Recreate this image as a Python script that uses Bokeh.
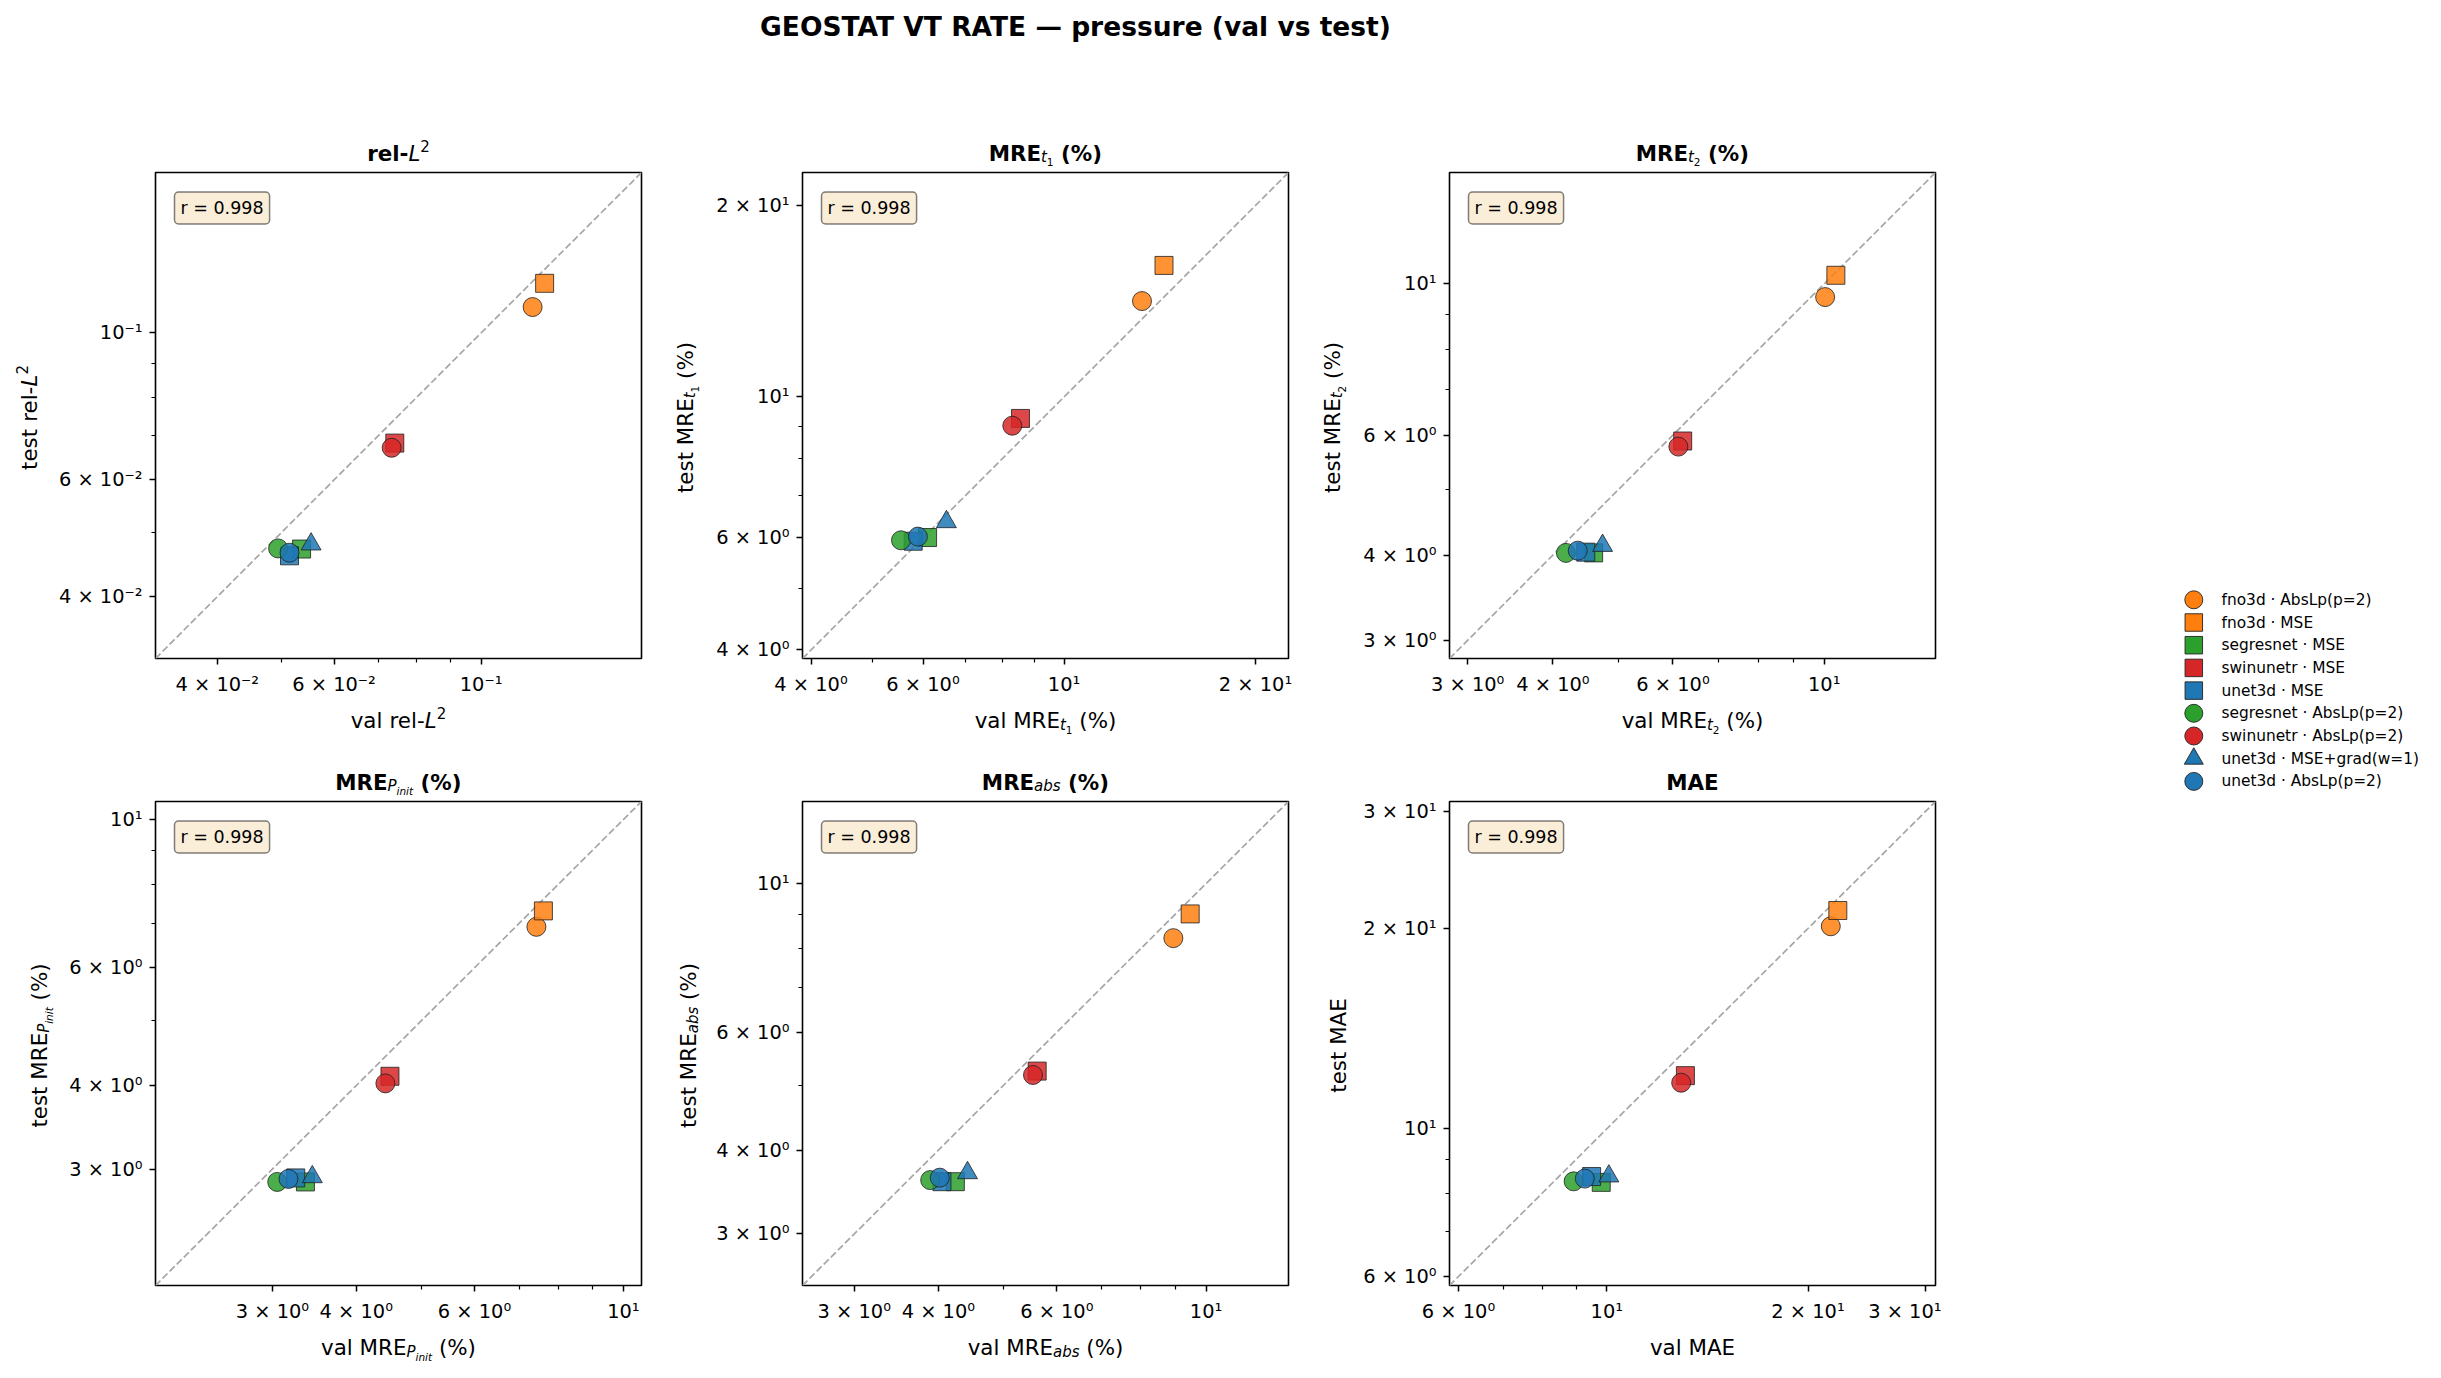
import math
from bokeh.plotting import figure
from bokeh.models import Range1d, FixedTicker, Label, ColumnDataSource
from bokeh.layouts import column, row
from bokeh.embed import file_html
from bokeh.resources import INLINE
from bokeh.core.properties import value

FONT = "DejaVu Sans"

# ---------------- data ----------------
suptitle = "GEOSTAT VT RATE — pressure (val vs test)"

models = ["fno3d · AbsLp(p=2)", "fno3d · MSE", "segresnet · MSE", "swinunetr · MSE",
          "unet3d · MSE", "segresnet · AbsLp(p=2)", "swinunetr · AbsLp(p=2)",
          "unet3d · MSE+grad(w=1)", "unet3d · AbsLp(p=2)"]
colors = ["#ff7f0e", "#ff7f0e", "#2ca02c", "#d62728", "#1f77b4",
          "#2ca02c", "#d62728", "#1f77b4", "#1f77b4"]
markers = ["circle", "square", "square", "square", "square",
           "circle", "circle", "triangle", "circle"]

rel_l2_val = [0.1196, 0.1247, 0.0536, 0.0741, 0.0514, 0.0494, 0.0733, 0.0554, 0.0514]
rel_l2_test = [0.1094, 0.1188, 0.0472, 0.0682, 0.0461, 0.0473, 0.0671, 0.0480, 0.0466]
mre_t1_val = [13.26, 14.36, 6.10, 8.54, 5.79, 5.54, 8.29, 6.53, 5.89]
mre_t1_test = [14.15, 16.10, 6.01, 9.25, 5.93, 5.95, 9.01, 6.36, 6.03]
mre_t2_val = [10.03, 10.40, 4.59, 6.20, 4.47, 4.18, 6.11, 4.73, 4.35]
mre_t2_test = [9.56, 10.29, 4.03, 5.88, 4.04, 4.03, 5.77, 4.13, 4.06]
mre_pinit_val = [7.42, 7.60, 3.36, 4.49, 3.25, 3.05, 4.42, 3.44, 3.17]
mre_pinit_test = [6.91, 7.30, 2.87, 4.13, 2.91, 2.87, 4.03, 2.92, 2.90]
mre_abs_val = [8.94, 9.47, 4.24, 5.61, 4.05, 3.89, 5.53, 4.42, 4.02]
mre_abs_test = [8.29, 9.01, 3.59, 5.25, 3.59, 3.61, 5.18, 3.70, 3.64]
mae_val = [21.63, 22.16, 9.81, 13.11, 9.49, 8.92, 12.92, 10.07, 9.27]
mae_test = [20.15, 21.28, 8.31, 12.02, 8.48, 8.34, 11.73, 8.49, 8.42]

r_values = ["0.998", "0.998", "0.998", "0.998", "0.998", "0.998"]

rel_l2_ticks = [0.04, 0.06, 0.1]
mre_t1_ticks = [4, 6, 10, 20]
mre_t2_ticks = [3, 4, 6, 10]
mre_pinit_ticks = [3, 4, 6, 10]
mre_abs_ticks = [3, 4, 6, 10]
mae_ticks = [6, 10, 20, 30]

panel_names = [
    [("rel-", "main"), ("L", "it"), ("2", "sup")],
    [("MRE", "main"), ("t", "subit"), ("1", "subsub"), (" (%)", "main")],
    [("MRE", "main"), ("t", "subit"), ("2", "subsub"), (" (%)", "main")],
    [("MRE", "main"), ("P", "subit"), ("init", "subsubit"), (" (%)", "main")],
    [("MRE", "main"), ("abs", "subit"), (" (%)", "main")],
    [("MAE", "main")],
]

panels = [
    (rel_l2_val, rel_l2_test, rel_l2_ticks),
    (mre_t1_val, mre_t1_test, mre_t1_ticks),
    (mre_t2_val, mre_t2_test, mre_t2_ticks),
    (mre_pinit_val, mre_pinit_test, mre_pinit_ticks),
    (mre_abs_val, mre_abs_test, mre_abs_ticks),
    (mae_val, mae_test, mae_ticks),
]

# ---------------- helpers ----------------
WR = {" ": 651, "(": 799, ")": 799, "%": 1946, "-": 739, ".": 651, "=": 1716, "×": 1716,
      "A": 1401, "E": 1294, "L": 1141, "M": 1767, "P": 1235, "R": 1423,
      "a": 1255, "b": 1300, "e": 1260, "i": 569, "l": 569, "n": 1298, "r": 842,
      "s": 1067, "t": 803, "v": 1212}
for d in "0123456789":
    WR[d] = 1303
WB = {" ": 713, "(": 934, ")": 934, "%": 2052, "-": 852, "A": 1589, "E": 1399, "L": 1306,
      "M": 1995, "P": 1499, "R": 1577, "a": 1382, "b": 1466, "e": 1389, "i": 702,
      "l": 702, "n": 1458, "r": 1010, "s": 1214, "t": 979, "v": 1331}
for d in "0123456789":
    WB[d] = 1425

KIND = {"main": (1.0, 0.0, False), "it": (1.0, 0.0, True), "sup": (0.7, 0.42, False),
        "subit": (0.7, -0.12, True), "subsub": (0.49, -0.30, False),
        "subsubit": (0.49, -0.30, True)}
BASE_CORR = 0.28   # baseline correction (em) for the renderer's alphabetic placement


def tw(s, size, bold):
    tbl = WB if bold else WR
    return sum(tbl.get(c, 1250) for c in s) * size / 2048.0


def strip(w, h):
    f = figure(frame_width=w, frame_height=h, x_range=Range1d(0, w), y_range=Range1d(0, h),
               toolbar_location=None, output_backend="svg", min_border=0,
               min_border_left=0, min_border_right=0, min_border_top=0, min_border_bottom=0,
               x_axis_location=None, y_axis_location=None, title=None)
    f.outline_line_color = None
    f.grid.visible = False
    f.background_fill_color = "white"
    f.border_fill_color = "white"
    return f


def rich(f, segs, size, bold_main, x, y, rotate=False):
    pieces = []
    for text, kind in segs:
        sc, dy, it = KIND[kind]
        b = bold_main and kind == "main"
        fs = size * sc
        pieces.append((text, fs, dy * size + BASE_CORR * fs, b, it, tw(text, fs, b)))
    total = sum(pc[5] for pc in pieces)
    pos = -total / 2.0
    d = dict(x=[], y=[], text=[], size=[], style=[])
    for text, fs, dy, b, it, w in pieces:
        lead = len(text) - len(text.lstrip(" "))
        shift = tw(" " * lead, fs, b)
        t = text.strip(" ")
        mid = pos + shift + tw(t, fs, b) / 2.0
        style = ("bold " if b else "") + ("italic" if it else "")
        style = style.strip() or "normal"
        if rotate:
            d["x"].append(x - dy)
            d["y"].append(y + mid)
        else:
            d["x"].append(x + mid)
            d["y"].append(y + dy)
        d["text"].append(t)
        d["size"].append(f"{fs:.1f}px")
        d["style"].append(style)
        pos += w
    f.text("x", "y", text="text", source=ColumnDataSource(d), text_font=value(FONT),
           text_font_size="size", text_font_style="style", text_color="black",
           text_align="center", text_baseline="alphabetic",
           angle=(math.pi / 2 if rotate else 0))


SUP = str.maketrans("-0123456789", "⁻⁰¹²³⁴⁵⁶⁷⁸⁹")


def tick_text(v):
    e = math.floor(math.log10(v) + 1e-9)
    m = round(v / 10 ** e)
    s = "10" + str(e).translate(SUP)
    return s if m == 1 else f"{m} × {s}"


def minor_ticks(lo, hi, majors):
    out = []
    for e in range(math.floor(math.log10(lo)) - 1, math.ceil(math.log10(hi)) + 1):
        for m in range(1, 10):
            v = m * 10.0 ** e
            if lo <= v <= hi and not any(abs(v - t) < 1e-6 * t for t in majors):
                out.append(v)
    return out


CELL_W = 647
FRAME_W = 486
PANEL_RIGHT = 6
FRAME_LEFT_IN_CELL = 155
panel_lefts = [102, 92, 92, 92, 92, 92]
PANEL_TOP = 2
PANEL_BOTTOM = 42
XLAB_H = 47
ylab_off = [120, 110.6, 110.6, 110, 107.6, 105.4]
frame_hs = [486, 486, 486, 484, 484, 484]
title_hs = [70, 70, 70, 52, 52, 52]
SIZES = {"circle": 19, "square": 18, "triangle": 20}

cells = []
for i, (val, test, ticks) in enumerate(panels):
    lo = 0.7 * min(val + test)
    hi = 1.4 * max(val + test)
    fh = frame_hs[i]
    pl = panel_lefts[i]
    ylab_w = FRAME_LEFT_IN_CELL - pl
    p = figure(x_axis_type="log", y_axis_type="log",
               x_range=Range1d(lo, hi), y_range=Range1d(lo, hi),
               frame_width=FRAME_W, frame_height=fh,
               min_border_left=pl, min_border_right=PANEL_RIGHT,
               min_border_top=PANEL_TOP, min_border_bottom=PANEL_BOTTOM,
               toolbar_location=None, output_backend="svg", title=None)
    p.grid.visible = False
    p.outline_line_color = "black"
    p.outline_line_width = 1.6
    p.background_fill_color = "white"
    p.border_fill_color = "white"
    for ax in (p.xaxis[0], p.yaxis[0]):
        ax.ticker = FixedTicker(ticks=ticks, minor_ticks=minor_ticks(lo, hi, ticks))
        ax.major_label_overrides = {t: tick_text(t) for t in ticks}
        ax.axis_line_color = None
        ax.major_tick_in = 0
        ax.major_tick_out = 6
        ax.minor_tick_in = 0
        ax.minor_tick_out = 4
        ax.major_tick_line_color = "black"
        ax.minor_tick_line_color = "black"
        ax.major_tick_line_width = 1.5
        ax.minor_tick_line_width = 1.2
        ax.major_label_text_font = FONT
        ax.major_label_text_font_size = "19.4px"
        ax.major_label_text_color = "black"
    p.xaxis.major_label_standoff = 8
    p.yaxis.major_label_standoff = 7

    p.line(x=[lo, hi], y=[lo, hi], line_color="#a6a6a6", line_width=1.7, line_dash="7 3")

    src = ColumnDataSource(dict(x=val, y=test, color=colors, marker=markers,
                                size=[SIZES[m] for m in markers]))
    p.scatter("x", "y", source=src, marker="marker", size="size", fill_color="color",
              fill_alpha=0.85, line_color="#222222", line_alpha=0.9, line_width=0.9)

    p.add_layout(Label(x=19, y=fh - 19.5, x_units="screen", y_units="screen",
                       text=f"r = {r_values[i]}", anchor="top_left",
                       text_font=FONT, text_font_size="17.5px", text_color="black",
                       padding=6, border_radius=4,
                       background_fill_color="#f5deb3", background_fill_alpha=0.5,
                       border_line_color="black", border_line_alpha=0.5,
                       border_line_width=1.5))

    name = panel_names[i]
    cx = FRAME_LEFT_IN_CELL + FRAME_W / 2.0

    t_strip = strip(CELL_W, title_hs[i])
    rich(t_strip, name, 21.4, True, cx, 13.5 - PANEL_TOP)

    panel_h = PANEL_TOP + fh + PANEL_BOTTOM
    y_strip = strip(ylab_w, panel_h)
    rich(y_strip, [("test ", "main")] + name, 21.4, False,
         FRAME_LEFT_IN_CELL - ylab_off[i], PANEL_BOTTOM + fh / 2.0, rotate=True)

    x_strip = strip(CELL_W, XLAB_H)
    rich(x_strip, [("val ", "main")] + name, 21.4, False, cx, XLAB_H - (68 - PANEL_BOTTOM))

    cells.append(column(t_strip, row(y_strip, p), x_strip))

# ---------------- header (suptitle) ----------------
header = strip(2436, 100)
header.text(x=[1075], y=[74], text=[suptitle], text_font=value(FONT),
            text_font_size="26.5px", text_font_style="bold", text_color="black",
            text_align="center", text_baseline="alphabetic")

# ---------------- legend ----------------
LEG_W = 495
LEG_H = sum(title_hs[k] + PANEL_TOP + frame_hs[k] + PANEL_BOTTOM + XLAB_H for k in (0, 3))
leg = figure(frame_width=LEG_W, frame_height=LEG_H, x_range=Range1d(0, LEG_W),
             y_range=Range1d(LEG_H, 0), toolbar_location=None, output_backend="svg",
             min_border=0, min_border_left=0, min_border_right=0, min_border_top=0,
             min_border_bottom=0, x_axis_location=None, y_axis_location=None, title=None)
leg.outline_line_color = None
leg.grid.visible = False
n = len(models)
leg_y = [499.3 + k * 22.7 for k in range(n)]
leg_sizes = {"circle": 18, "square": 17.5, "triangle": 19}
lsrc = ColumnDataSource(dict(mx=[252.3] * n, tx=[280.0] * n, y=leg_y, color=colors,
                             marker=markers, size=[leg_sizes[m] for m in markers],
                             label=models))
leg.scatter("mx", "y", source=lsrc, marker="marker", size="size", fill_color="color",
            line_color="#222222", line_width=0.9)
leg.text("tx", "y", text="label", source=lsrc, text_font=value(FONT),
         text_font_size="15.4px", text_color="black", text_align="left",
         text_baseline="middle")

grid = column(row(cells[0], cells[1], cells[2]), row(cells[3], cells[4], cells[5]))
layout = column(header, row(grid, leg))

open("out.html", "w").write(file_html(layout, INLINE))
